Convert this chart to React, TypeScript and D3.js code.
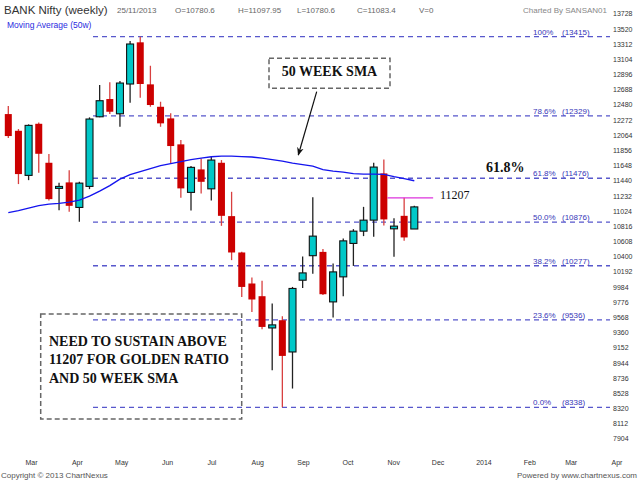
import * as d3 from 'd3';

// weekly BANK Nifty candles, 18/02/2013 .. 25/11/2013
const weeks = d3.timeMonday.range(new Date(2013, 1, 18), new Date(2013, 10, 26));

const opens = [
  12355, 12126, 11515, 12222, 11688, 11337, 11419, 11076, 11364, 12318,
  12561, 12359, 12767, 13338, 12762, 12455, 12296, 11940, 11282, 11597,
  11331, 11688, 10957, 10459, 10034, 9860, 9425, 9531, 9096, 10079,
  10415, 10467, 9782, 10125, 10583, 10751, 10902, 11542, 10783, 10961, 10780.6
];
const highs = [
  12465, 12150, 12214, 12241, 11807, 11413, 11587, 11427, 12310, 12753,
  12790, 12808, 13356, 13415, 13017, 12524, 12365, 11999, 11642, 11748,
  11770, 11725, 11290, 10470, 10116, 10070, 9760, 9586, 9987, 10404,
  11217, 10508, 10308, 10651, 10779, 11084, 11688, 11734, 10929, 11207, 11097.95
];
const lows = [
  12026, 11396, 11450, 11550, 11172, 11039, 11016, 10879, 11327, 12310,
  12355, 12181, 12510, 12579, 12455, 12181, 11679, 11208, 11035, 11268,
  11172, 10824, 10354, 9850, 9645, 9408, 8845, 8338, 8595, 9974,
  10166, 9877, 9568, 9860, 10275, 10683, 10673, 10829, 10399, 10618, 10780.6
];
const closes = [
  12054, 11533, 12200, 11811, 11190, 11364, 11098, 11409, 12287, 12538,
  12387, 12780, 13315, 12767, 12479, 12228, 11917, 11337, 11625, 11427,
  11725, 10961, 10459, 9987, 9815, 9439, 9467, 9042, 9966, 10179,
  10683, 9887, 10193, 10618, 10751, 10902, 11629, 10912, 10820, 10665, 11083.4
];
const sma50 = [
  11005, 11032, 11067, 11101, 11121, 11131, 11149, 11176, 11231, 11300,
  11375, 11464, 11526, 11567, 11608, 11649, 11677, 11704, 11731, 11752,
  11770, 11779, 11779, 11772, 11766, 11752, 11731, 11711, 11683, 11663,
  11642, 11594, 11574, 11560, 11539, 11533, 11533, 11529, 11498, 11471, 11441
];

const fibLabels = ['0.0%', '23.6%', '38.2%', '50.0%', '61.8%', '78.6%', '100%'];
const fibValues = [8338, 9536, 10277, 10876, 11476, 12329, 13415];

const yTicks = [
  7904, 8112, 8320, 8528, 8736, 8944, 9152, 9360, 9568, 9776, 9984, 10192,
  10400, 10608, 10816, 11024, 11232, 11440, 11648, 11856, 12064, 12272,
  12480, 12688, 12896, 13104, 13312, 13520, 13728
];
const monthLabels = ['Mar', 'Apr', 'May', 'Jun', 'Jul', 'Aug', 'Sep', 'Oct', 'Nov', 'Dec', '2014', 'Feb', 'Mar', 'Apr'];
const monthStarts = d3.timeMonth.range(new Date(2013, 2, 1), new Date(2014, 3, 2));

const headerItems = ['25/11/2013', 'O=10780.6', 'H=11097.95', 'L=10780.6', 'C=11083.4', 'V=0'];
const headerX = [117, 175, 238, 297, 357, 419];

const goldenLevel = 11207;
const boxLines = ['NEED TO SUSTAIN ABOVE', '11207 FOR GOLDEN RATIO', 'AND 50 WEEK SMA'];

const W = 640;
const H = 480;
const plotRight = 610;
const sans = 'Liberation Sans, Arial, sans-serif';
const serif = 'Liberation Serif, Times New Roman, serif';

export default function App() {
  const x = d3.scaleTime().domain([weeks[0], weeks[weeks.length - 1]]).range([8.3, 414.3]);
  const y = d3.scaleLinear().domain([8338, 13415]).range([407.3, 36.7]);
  // month labels sit a little right of the month start and drift slightly
  const xLabel = d3.scaleTime().domain([monthStarts[0], monthStarts[monthStarts.length - 1]]).range([31.5, 617]);
  const bodyW = 7;

  const maLine = d3
    .line<number>()
    .x((_, i) => x(weeks[i]))
    .y(d => y(d))(sma50) || '';

  const fibStart = x(weeks[8]) + bodyW / 2;
  const goldenStart = x(weeks[37]) + bodyW / 2;
  const goldenEnd = x(new Date(2013, 11, 8));

  return (
    <svg
      width={W}
      height={H}
      style={{ position: 'absolute', left: 0, top: 0, background: '#fff' }}
    >
      <defs>
        <marker id="arr" viewBox="0 0 10 10" refX="9" refY="5" markerWidth="7" markerHeight="9" orient="auto">
          <path d="M0,1 L10,5 L0,9 L3,5 Z" fill="#111" />
        </marker>
      </defs>
      <rect width={W} height={H} fill="#fff" />

      {/* header */}
      <text x={4} y={14} fontFamily={sans} fontSize={11.5} fill="#333">BANK Nifty (weekly)</text>
      {headerItems.map((t, i) => (
        <text key={t} x={headerX[i]} y={13} fontFamily={sans} fontSize={8} fill="#666">{t}</text>
      ))}
      <text x={607} y={13} textAnchor="end" fontFamily={sans} fontSize={8} fill="#888">Charted By SANSAN01</text>
      <text x={7} y={28} fontFamily={sans} fontSize={8.5} fill="#2a2ae0">Moving Average (50w)</text>

      {/* fibonacci levels */}
      {fibValues.map((v, i) => (
        <g key={v}>
          <line
            x1={fibStart}
            x2={plotRight}
            y1={y(v)}
            y2={y(v)}
            stroke="#3b3bc4"
            strokeWidth={1.3}
            strokeDasharray="5,4"
            opacity={0.85}
          />
          <text x={533} y={y(v) - 2} fontFamily={sans} fontSize={8} fill="#3636b8">{fibLabels[i]}</text>
          <text x={562} y={y(v) - 2} fontFamily={sans} fontSize={8} fill="#3636b8">({v})</text>
        </g>
      ))}

      {/* candles */}
      {weeks.map((w, i) => {
        const up = closes[i] >= opens[i];
        const cx = x(w);
        const top = y(Math.max(opens[i], closes[i]));
        const bot = y(Math.min(opens[i], closes[i]));
        return (
          <g key={i}>
            <line
              x1={cx}
              x2={cx}
              y1={y(highs[i])}
              y2={y(lows[i])}
              stroke={up ? '#222' : '#d84040'}
              strokeWidth={1.3}
            />
            <rect
              x={cx - bodyW / 2}
              y={top}
              width={bodyW}
              height={Math.max(1.5, bot - top)}
              fill={up ? '#00c8c8' : '#cc0000'}
              stroke={up ? '#111' : 'none'}
              strokeWidth={1.1}
            />
          </g>
        );
      })}

      {/* 50 week moving average */}
      <path d={maLine} fill="none" stroke="#1414ee" strokeWidth={1.4} />

      {/* golden ratio level */}
      <line x1={goldenStart} x2={goldenEnd} y1={y(goldenLevel)} y2={y(goldenLevel)} stroke="#dd33dd" strokeWidth={1.3} />
      <text x={440} y={y(goldenLevel) + 1} fontFamily={serif} fontSize={12} fill="#111">{goldenLevel}</text>
      <text x={486} y={171.5} fontFamily={serif} fontWeight="bold" fontSize={14} fill="#111">61.8%</text>

      {/* annotations */}
      <rect x={269} y={58.3} width={121} height={30} fill="none" stroke="#666" strokeWidth={1.5} strokeDasharray="5,3" />
      <text x={329.5} y={75.5} textAnchor="middle" fontFamily={serif} fontWeight="bold" fontSize={14} fill="#111">50 WEEK SMA</text>
      <line x1={316.7} y1={91.7} x2={298.3} y2={155} stroke="#111" strokeWidth={1.2} markerEnd="url(#arr)" />

      <rect x={40.7} y={314} width={201} height={105} fill="none" stroke="#666" strokeWidth={1.5} strokeDasharray="5,3" />
      {boxLines.map((t, i) => (
        <text key={t} x={49} y={346 + i * 18.3} fontFamily={serif} fontWeight="bold" fontSize={14} fill="#111">{t}</text>
      ))}

      {/* y axis */}
      {yTicks.map(v => (
        <text key={v} x={613} y={y(v) + 2.5} fontFamily={sans} fontSize={7} fill="#333">{v}</text>
      ))}

      {/* x axis */}
      {monthStarts.map((m, i) => (
        <text key={i} x={xLabel(m)} y={465} textAnchor="middle" fontFamily={sans} fontSize={7} fill="#333">
          {monthLabels[i]}
        </text>
      ))}

      {/* footer */}
      <text x={1} y={478} fontFamily={sans} fontSize={8} fill="#555">Copyright © 2013 ChartNexus</text>
      <text x={637} y={478} textAnchor="end" fontFamily={sans} fontSize={8} fill="#555">Powered by www.chartnexus.com</text>
    </svg>
  );
}
